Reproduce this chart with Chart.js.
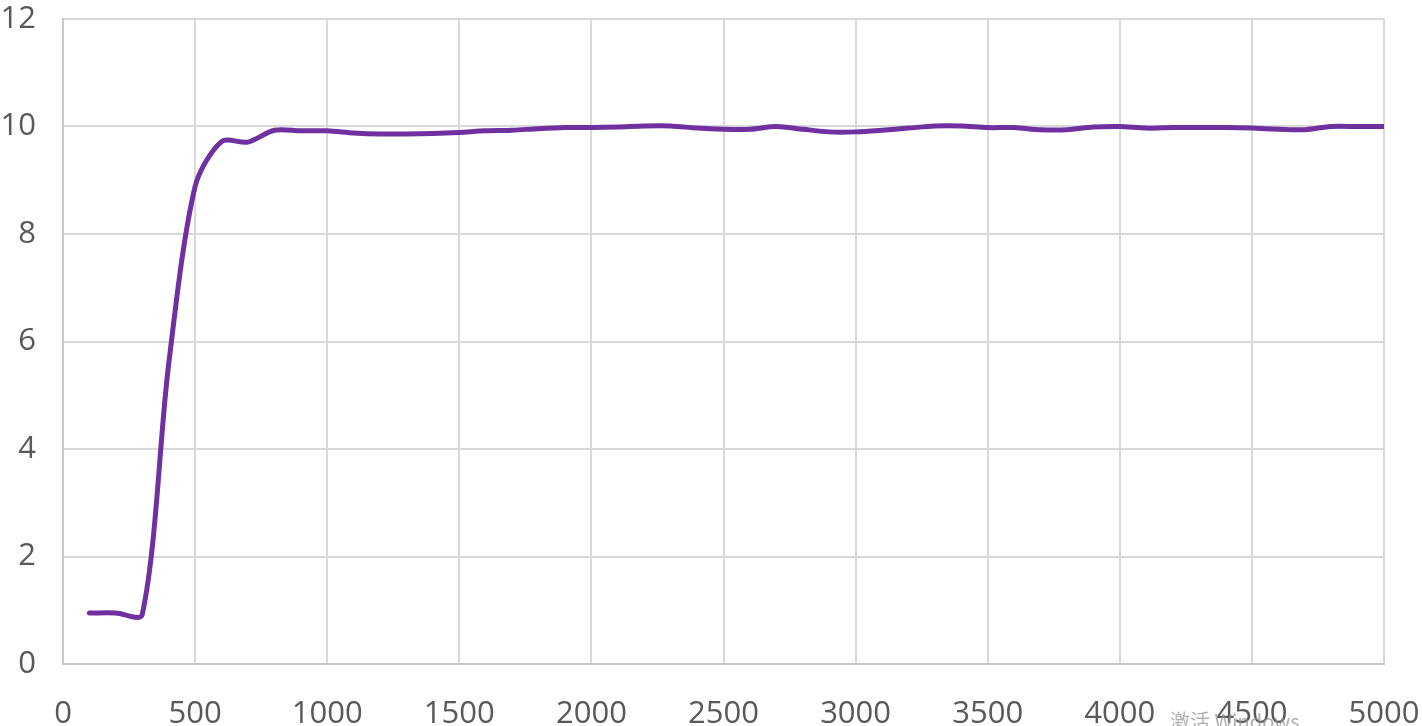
<!DOCTYPE html>
<html>
<head>
<meta charset="utf-8">
<script src="https://cdn.jsdelivr.net/npm/chart.js@4/dist/chart.umd.min.js"></script>
<style>
  html, body { margin: 0; padding: 0; background: #ffffff; }
  #wrap { width: 1422px; height: 726px; position: relative; }
</style>
</head>
<body>
<div id="wrap"><canvas id="c" width="1422" height="726"></canvas></div>
<script>
// Data
const xValues = [100, 200, 300, 400, 500, 600, 700, 800, 900, 1000,
  1100, 1200, 1300, 1400, 1500, 1600, 1700, 1800, 1900, 2000,
  2100, 2200, 2300, 2400, 2500, 2600, 2700, 2800, 2900, 3000,
  3100, 3200, 3300, 3400, 3500, 3600, 3700, 3800, 3900, 4000,
  4100, 4200, 4300, 4400, 4500, 4600, 4700, 4800, 4900, 5000];
const yValues = [0.95, 0.95, 0.92, 5.58, 8.88, 9.72, 9.71, 9.93, 9.92, 9.92,
  9.88, 9.86, 9.86, 9.87, 9.89, 9.92, 9.93, 9.96, 9.98, 9.98,
  9.99, 10.01, 10.01, 9.97, 9.95, 9.95, 10.0, 9.95, 9.90, 9.90,
  9.93, 9.97, 10.01, 10.01, 9.98, 9.98, 9.94, 9.94, 9.99, 10.0,
  9.97, 9.98, 9.98, 9.98, 9.97, 9.95, 9.94, 10.0, 10.0, 10.0];
const xTicks = [0, 500, 1000, 1500, 2000, 2500, 3000, 3500, 4000, 4500, 5000];
const yTicks = [0, 2, 4, 6, 8, 10, 12];
const watermarkText = '激活 Windows';

const points = xValues.map((x, i) => ({ x: x, y: yValues[i] }));

const watermark = {
  id: 'watermark',
  afterDraw(chart) {
    const ctx = chart.ctx;
    ctx.save();
    ctx.font = '20px "Noto Sans CJK SC", "Open Sans", sans-serif';
    ctx.fillStyle = 'rgba(150,150,150,0.75)';
    ctx.textBaseline = 'top';
    ctx.textAlign = 'left';
    ctx.fillText(watermarkText, 1170, 711);
    ctx.restore();
  }
};

function zeroPad(scale) {
  scale.paddingTop = 0; scale.paddingBottom = 0;
  scale.paddingLeft = 0; scale.paddingRight = 0;
}

new Chart(document.getElementById('c'), {
  type: 'line',
  data: {
    datasets: [{
      data: points,
      borderColor: '#7030A0',
      borderWidth: 5,
      pointRadius: 0,
      fill: false,
      tension: 0.3,
      borderCapStyle: 'round',
      borderJoinStyle: 'round'
    }]
  },
  options: {
    responsive: false,
    animation: false,
    devicePixelRatio: 1,
    layout: { padding: { top: 19, right: 38, left: 0, bottom: 0 } },
    plugins: { legend: { display: false }, tooltip: { enabled: false } },
    scales: {
      x: {
        type: 'linear',
        min: 0, max: 5000,
        afterBuildTicks(scale) { scale.ticks = xTicks.map(v => ({ value: v })); },
        afterFit(scale) { scale.height = 62; zeroPad(scale); },
        grid: { color: '#d9d9d9', lineWidth: 2, drawTicks: false },
        border: { color: '#c8c8c8', width: 2 },
        ticks: {
          padding: 32,
          color: '#595959',
          font: { family: '"Open Sans", sans-serif', size: 31 },
          maxRotation: 0,
          autoSkip: false,
          callback: (v) => String(v)
        }
      },
      y: {
        min: 0, max: 12,
        afterBuildTicks(scale) { scale.ticks = yTicks.map(v => ({ value: v })); },
        afterFit(scale) { scale.width = 63; zeroPad(scale); },
        grid: { color: '#d9d9d9', lineWidth: 2, drawTicks: false },
        border: { color: '#c8c8c8', width: 2 },
        ticks: {
          padding: 27,
          color: '#595959',
          font: { family: '"Open Sans", sans-serif', size: 31 },
          callback: (v) => String(v)
        }
      }
    }
  },
  plugins: [watermark]
});
</script>
</body>
</html>
